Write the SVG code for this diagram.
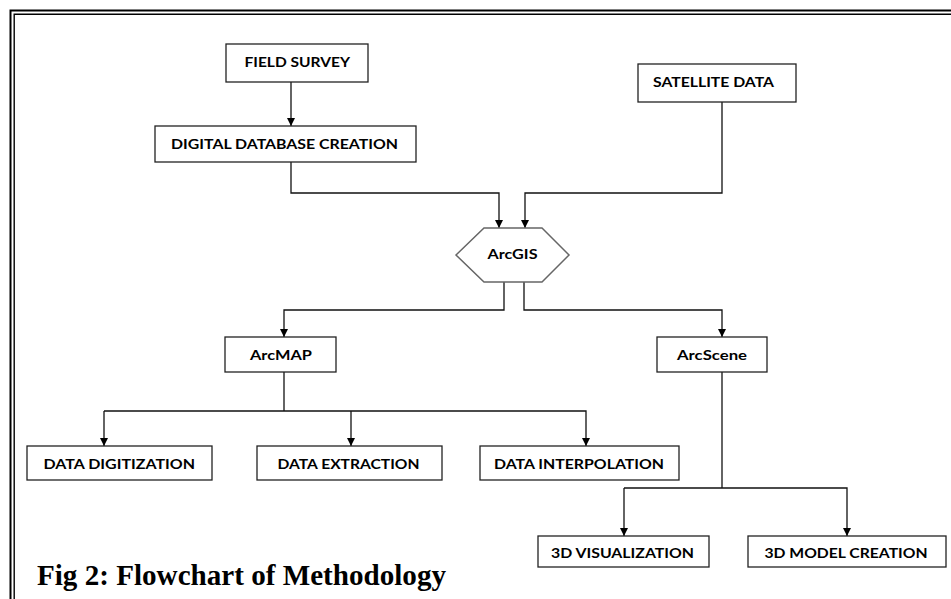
<svg xmlns="http://www.w3.org/2000/svg" width="951" height="599" viewBox="0 0 951 599">
<defs>
<marker id="arr" viewBox="0 0 10 10" refX="10" refY="5" markerWidth="8" markerHeight="8" markerUnits="userSpaceOnUse" orient="auto">
<path d="M0,0 L10,5 L0,10 Z" fill="#000"/>
</marker>
<style>
.box{fill:#fff;stroke:#222;stroke-width:1.3}
.hex{fill:#fff;stroke:#666;stroke-width:1.5}
.lbl{font-family:"Lato","Open Sans","Liberation Sans",sans-serif;font-weight:bold;font-size:14px;fill:#000}
.con{fill:none;stroke:#111;stroke-width:1.3}
.arr{marker-end:url(#arr)}
.cap{font-family:"Liberation Serif","Times New Roman",serif;font-weight:bold;font-size:29.5px;fill:#000}
</style>
</defs>
<rect width="951" height="599" fill="#fff"/>
<g id="border" fill="none" stroke="#000">
<path d="M10.5,599 V10.5 H951" stroke-width="2"/>
<path d="M14.2,599 V14.2 H951" stroke-width="1.4"/>
</g>
<g id="connectors">
<path class="con arr" d="M291,82 V126"/>
<path class="con arr" d="M291,162 V193 H499 V228"/>
<path class="con arr" d="M722,102 V193 H525 V228"/>
<path class="con arr" d="M504,282 V310 H284 V337"/>
<path class="con arr" d="M524,282 V310 H722 V337"/>
<path class="con" d="M284,372 V411"/>
<path class="con arr" d="M104,411 H586 V446"/>
<path class="con arr" d="M104,411 V446"/>
<path class="con arr" d="M351,411 V446"/>
<path class="con" d="M722,372 V488"/>
<path class="con arr" d="M624,488 H847 V536"/>
<path class="con arr" d="M624,488 V536"/>
</g>
<g id="field-survey">
<rect class="box" x="226" y="44" width="142" height="38"/>
<text class="lbl" x="244.5" y="67" textLength="105.5" lengthAdjust="spacingAndGlyphs">FIELD SURVEY</text>
</g>
<g id="digital-database">
<rect class="box" x="155" y="126" width="261" height="36"/>
<text class="lbl" x="171" y="148.5" textLength="227" lengthAdjust="spacingAndGlyphs">DIGITAL DATABASE CREATION</text>
</g>
<g id="satellite-data">
<rect class="box" x="638" y="64" width="158" height="38"/>
<text class="lbl" x="653" y="87" textLength="121" lengthAdjust="spacingAndGlyphs">SATELLITE DATA</text>
</g>
<g id="arcgis">
<polygon class="hex" points="456,255 484,228 542,228 569,255 542,282 484,282"/>
<text class="lbl" x="487.5" y="258.5" textLength="50" lengthAdjust="spacingAndGlyphs">ArcGIS</text>
</g>
<g id="arcmap">
<rect class="box" x="225" y="337" width="111" height="35"/>
<text class="lbl" x="250" y="360" textLength="62" lengthAdjust="spacingAndGlyphs">ArcMAP</text>
</g>
<g id="arcscene">
<rect class="box" x="657" y="337" width="110" height="35"/>
<text class="lbl" x="677" y="360" textLength="70" lengthAdjust="spacingAndGlyphs">ArcScene</text>
</g>
<g id="data-digitization">
<rect class="box" x="27" y="446" width="185" height="34"/>
<text class="lbl" x="43.5" y="468.5" textLength="151.5" lengthAdjust="spacingAndGlyphs">DATA DIGITIZATION</text>
</g>
<g id="data-extraction">
<rect class="box" x="257" y="446" width="185" height="34"/>
<text class="lbl" x="277.5" y="468.5" textLength="142" lengthAdjust="spacingAndGlyphs">DATA EXTRACTION</text>
</g>
<g id="data-interpolation">
<rect class="box" x="480" y="446" width="199" height="34"/>
<text class="lbl" x="494" y="468.5" textLength="170" lengthAdjust="spacingAndGlyphs">DATA INTERPOLATION</text>
</g>
<g id="visualization-3d">
<rect class="box" x="538" y="536" width="171" height="31"/>
<text class="lbl" x="551" y="557.5" textLength="143" lengthAdjust="spacingAndGlyphs">3D VISUALIZATION</text>
</g>
<g id="model-creation-3d">
<rect class="box" x="748" y="536" width="198" height="31"/>
<text class="lbl" x="764.5" y="557.5" textLength="163" lengthAdjust="spacingAndGlyphs">3D MODEL CREATION</text>
</g>
<text class="cap" x="37" y="585" textLength="409" lengthAdjust="spacingAndGlyphs">Fig 2: Flowchart of Methodology</text>
</svg>
